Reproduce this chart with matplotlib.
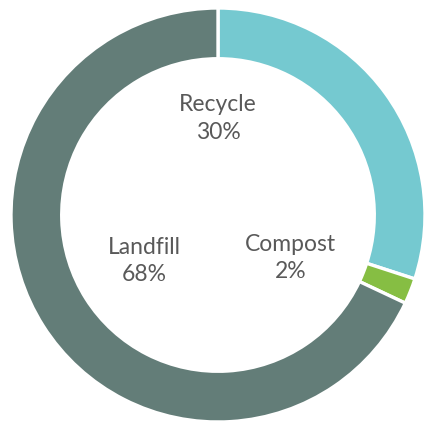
import matplotlib.pyplot as plt

labels = ['Recycle', 'Compost', 'Landfill']
values = [30, 2, 68]
colors = ['#75C9D0', '#86BE43', '#637D78']
label_pos = [(0.0, 0.466), (0.35, -0.208), (-0.357, -0.222)]

fig = plt.figure(figsize=(4.25, 4.25), dpi=100)
ax = fig.add_axes([0, 0, 1, 1])

# donut, clockwise from 12 o'clock, white gaps between wedges
ax.pie(values, colors=colors, startangle=90, counterclock=False, radius=1.0,
       wedgeprops=dict(width=0.245, edgecolor='white', linewidth=2.4))

for name, v, (x, y) in zip(labels, values, label_pos):
    ax.text(x, y, f'{name}\n{v}%', ha='center', va='center', fontsize=16.5,
            color='#595959', family='Lato', linespacing=1.4)

ax.set_xlim(-218 / 207, 207 / 207)
ax.set_ylim(-210 / 207, 215 / 207)
ax.set_aspect('equal')
ax.axis('off')

fig.savefig('out.png', dpi=100, facecolor='white')
